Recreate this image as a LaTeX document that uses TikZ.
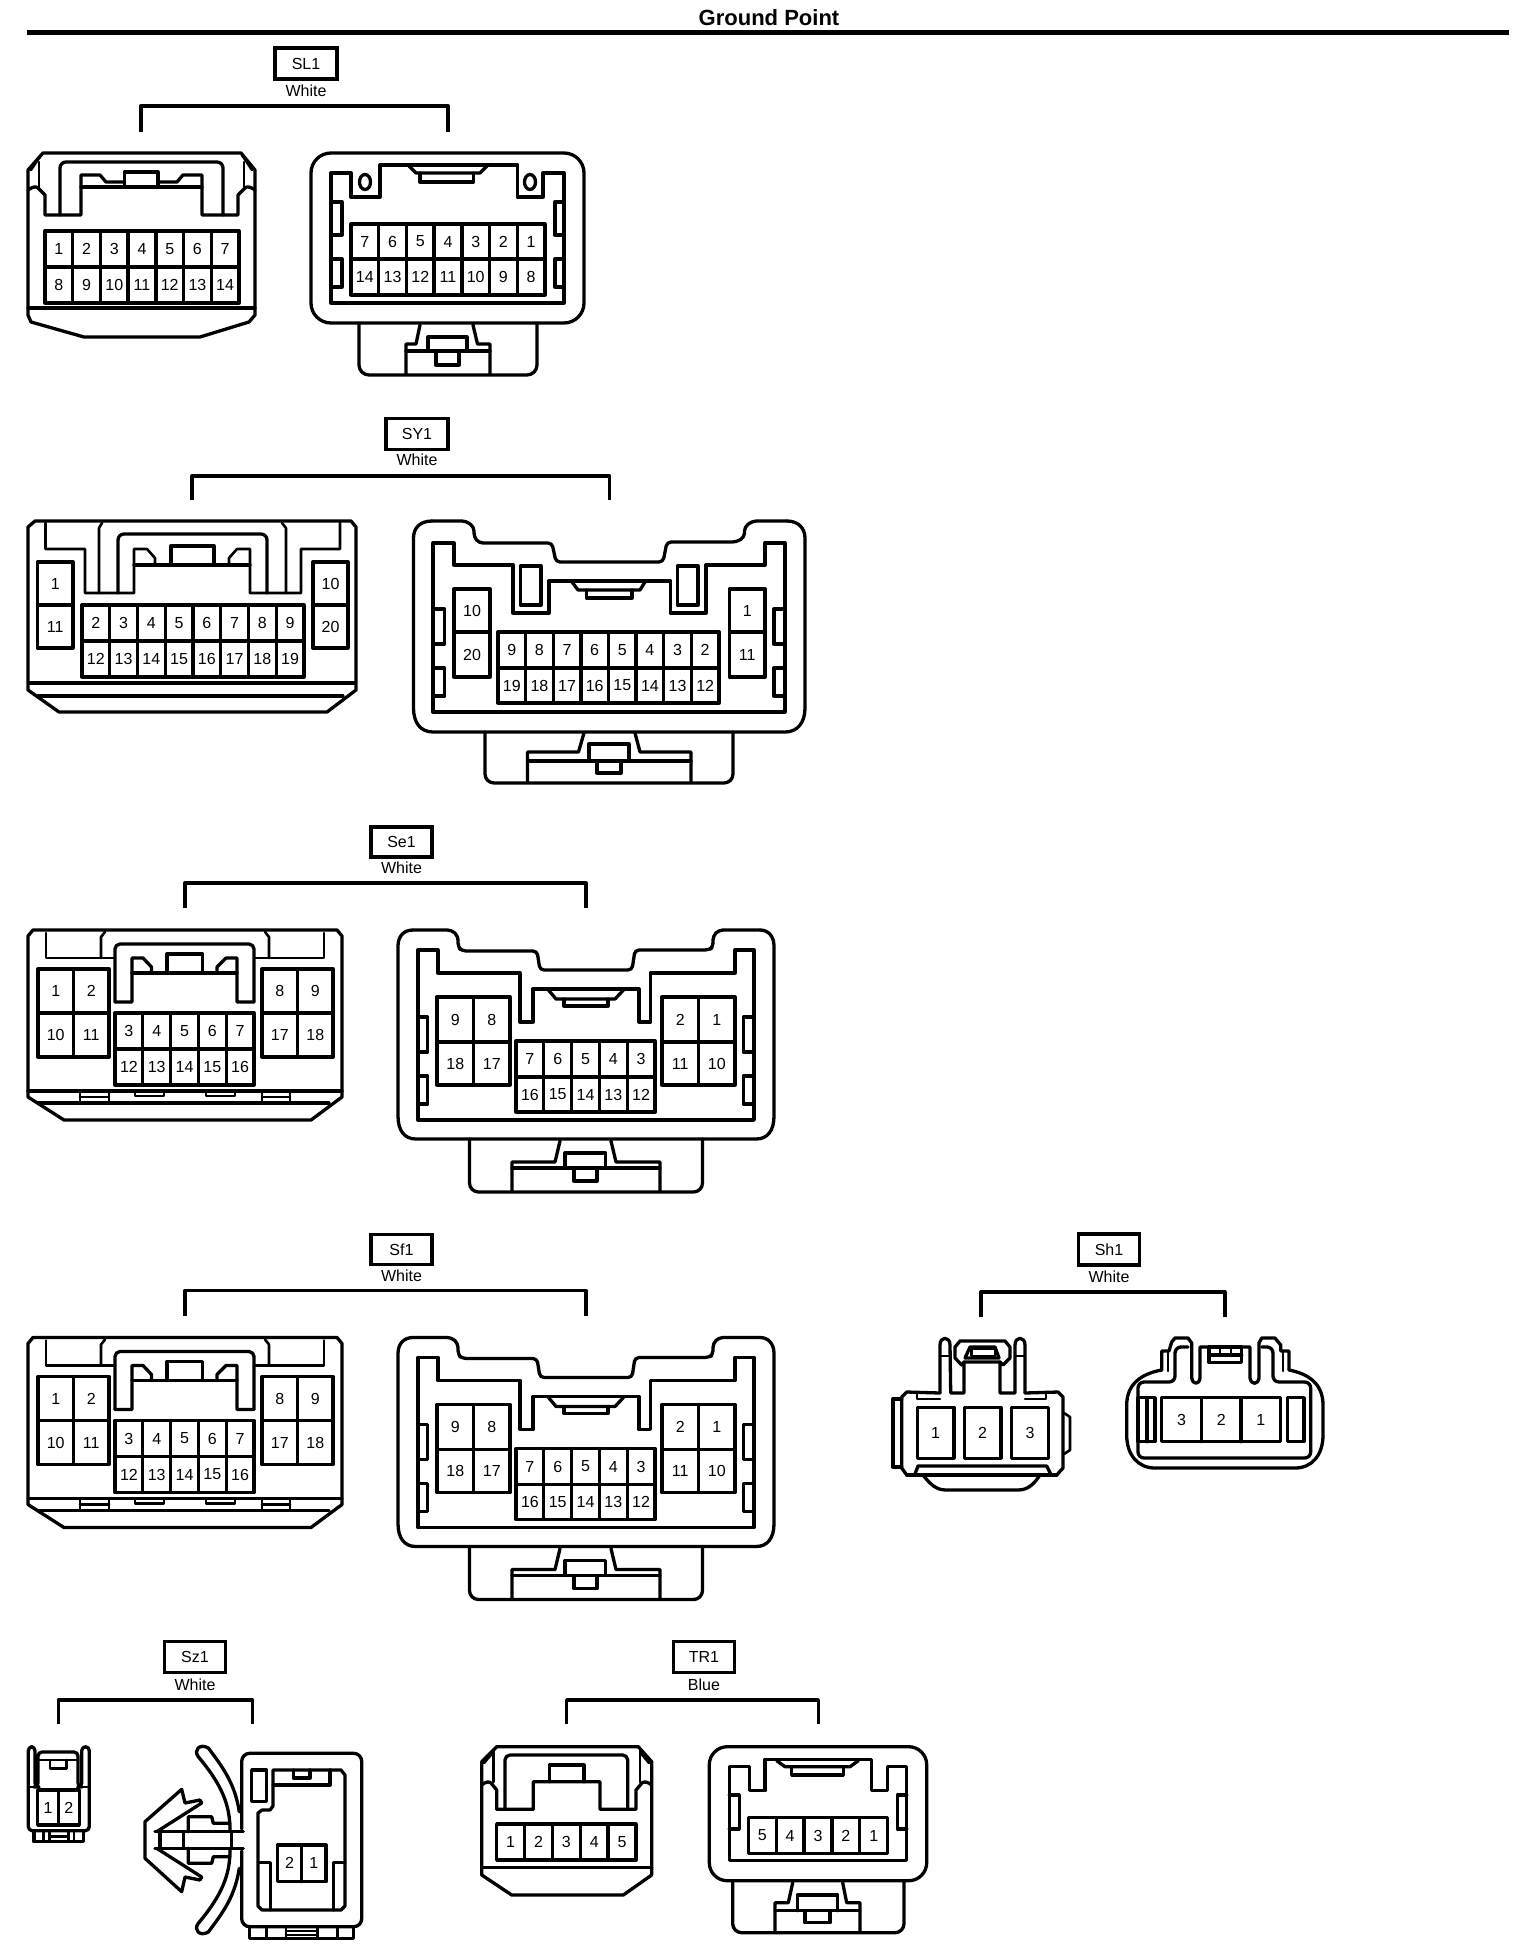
\documentclass[tikz,border=0pt]{standalone}
\usepackage{fontspec}
\setmainfont{Liberation Sans}
\tikzset{
 x=1pt,y=-1pt,
 ln/.style={line width=3.3pt,line join=round,line cap=round},
 thn/.style={line width=2.6pt,line join=round,line cap=round},
 pinlab/.style={inner sep=0pt,font=\fontsize{16}{18}\selectfont},
 tagbox/.style={draw,line width=3.3pt,inner sep=0pt,font=\fontsize{16}{18}\selectfont},
 collab/.style={inner sep=0pt,font=\fontsize{16}{18}\selectfont},
}
% name, n, x0,y0,x1,y1, labels
\newcommand{\pinrow}[7]{%
 \draw[ln] (#3,#4) rectangle (#5,#6);
 \pgfmathsetmacro{\cw}{(#5-#3)/#2}
 \foreach \lb [count=\ii] in {#7}{
  \ifnum\ii>1 \draw[ln] ({#3+(\ii-1)*\cw},#4) -- ({#3+(\ii-1)*\cw},#6);\fi
  \node[pinlab] (#1-\ii) at ({#3+(\ii-.5)*\cw},{(#4+#6)/2}) {\lb};
 }}
\newcommand{\grouphead}[9]{%
 \node[tagbox,minimum width=#4pt,minimum height=#5pt] (#1tag) at (#2,#3) {#1};
 \node[collab] (#1col) at (#2,#8) {#6};
 \coordinate (#1l) at (#7,#9);
}
\newcommand{\bracketto}[3]{%
 \coordinate (#1r) at (#2,#3);
 \draw[ln,line cap=butt] (#1l) |- (#1top) -| (#1r);
}
\newcommand{\seone}[1]{%
 % left connector
 \draw[ln] (33,930) -- (337,930) -- (342,936) -- (342,1097) -- (311,1120) -- (64,1120) -- (28,1097) -- (28,936) -- cycle;
 \draw[ln] (28,1091) -- (342,1091);
 \draw[ln] (38,1103) -- (329,1103);
 \draw[thn] (46,933) -- (46,958) -- (115,958);
 \draw[thn] (105,932) -- (101,937) -- (101,958);
 \draw[thn] (324,933) -- (324,958) -- (254,958);
 \draw[thn] (265,932) -- (269,937) -- (269,958);
 \draw[ln,rounded corners=5pt] (115,1002) -- (115,944) -- (254,944) -- (254,1002);
 \draw[ln] (115,1002) -- (132,1002) -- (132,958) -- (143,958) -- (151.5,967) -- (151.5,973);
 \draw[ln] (254,1002) -- (237,1002) -- (237,958) -- (226,958) -- (217,967) -- (217,973);
 \draw[ln] (132,973) -- (237,973);
 \draw[ln] (167,973) -- (167,954) -- (202.5,954) -- (202.5,973);
 \draw[thn] (80,1091) -- (80,1103) (109,1091) -- (109,1103) (80,1097) -- (109,1097);
 \draw[thn] (262,1091) -- (262,1103) (290,1091) -- (290,1103) (262,1097) -- (290,1097);
 \draw[thn] (135,1091) -- (135,1096) -- (164,1096) -- (164,1091);
 \draw[thn] (206,1091) -- (206,1096) -- (235,1096) -- (235,1091);
 \pinrow{#1a}{2}{38}{969}{109}{1013}{1,2}
 \pinrow{#1b}{2}{38}{1013}{109}{1057}{10,11}
 \pinrow{#1c}{2}{262}{969}{333}{1013}{8,9}
 \pinrow{#1d}{2}{262}{1013}{333}{1057}{17,18}
 \pinrow{#1e}{5}{115}{1013}{254}{1049}{3,4,5,6,7}
 \pinrow{#1f}{5}{115}{1049}{254}{1085}{12,13,14,15,16}
 % right connector
 \draw[ln,rounded corners=4pt] (413,930) -- (451.5,930) -- (458,936) -- (458,947) -- (462,951) -- (537,951) -- (540,970) -- (632,970) -- (635,950) -- (709,950) -- (713,947) -- (713,936) -- (719,930) -- (760,930);
 \draw[ln] (760,930) .. controls (768,930) and (774,936) .. (774,946) -- (774,1116) .. controls (774,1130) and (768,1139) .. (756,1139) -- (416,1139) .. controls (404,1139) and (398,1130) .. (398,1116) -- (398,946) .. controls (398,936) and (404,930) .. (413,930);
 \draw[ln] (418,950) -- (438,950) -- (438,973) -- (520,973) -- (520,1022) -- (533,1022) -- (533,989) -- (639,989) -- (639,1022) -- (650.5,1022) -- (650.5,973) -- (735,973) -- (735,950) -- (754,950) -- (754,1120) -- (418,1120) -- cycle;
 \draw[ln] (548.5,990) -- (556,999) -- (615,999) -- (623.5,990);
 \draw[ln] (564,999) -- (564,1006) -- (608,1006) -- (608,999);
 \draw[ln] (418,1017) -- (427.5,1017) -- (427.5,1052) -- (418,1052);
 \draw[ln] (418,1076) -- (427.5,1076) -- (427.5,1104) -- (418,1104);
 \draw[ln] (754,1017) -- (743.5,1017) -- (743.5,1052) -- (754,1052);
 \draw[ln] (754,1076) -- (743.5,1076) -- (743.5,1104) -- (754,1104);
 \pinrow{#1g}{2}{437}{997}{510}{1042}{9,8}
 \pinrow{#1h}{2}{437}{1042}{510}{1085}{18,17}
 \pinrow{#1i}{2}{662}{997}{735}{1042}{2,1}
 \pinrow{#1j}{2}{662}{1042}{735}{1085}{11,10}
 \pinrow{#1k}{5}{516}{1041}{655}{1077}{7,6,5,4,3}
 \pinrow{#1m}{5}{516}{1077}{655}{1112}{16,15,14,13,12}
 \draw[ln,rounded corners=9pt] (469.5,1139) -- (469.5,1192) -- (702.5,1192) -- (702.5,1139);
 \draw[ln] (560,1141) -- (555,1162) -- (512,1162) -- (512,1191);
 \draw[ln] (611,1141) -- (616,1162) -- (660,1162) -- (660,1191);
 \draw[ln] (512,1168) -- (660,1168);
 \draw[ln] (565,1168) -- (565,1153) -- (605.5,1153) -- (605.5,1168);
 \draw[ln] (574,1168) -- (574,1181) -- (597,1181) -- (597,1168);
}
\begin{document}
\begin{tikzpicture}
\path[fill=white,use as bounding box] (0,0) rectangle (1536,1956);
% ---------- title
\node[inner sep=0pt,font=\bfseries\fontsize{22}{24}\selectfont] (title) at (769,18) {Ground Point};
\coordinate (ruleL) at (27,32.5);
\coordinate (ruleR) at (1509,32.5);
\draw[line width=5pt] (ruleL) -- (ruleR);

% ---------- SL1
\grouphead{SL1}{306}{63.5}{62}{31}{White}{141}{91}{132}
\coordinate (SL1top) at (141,106);
\bracketto{SL1}{448}{132}
\draw[ln] (43,153) -- (241,153) -- (255,170) -- (255,315) -- (249,322) -- (200,337) -- (84,337) -- (31,322) -- (28,315) -- (28,170) -- cycle;
\draw[ln] (28,308) -- (255,308);
\draw[ln] (28,190) .. controls (32,187) and (36,186) .. (38,188) -- (45,195) -- (45,215) -- (81,215) -- (81,175) -- (100,175) -- (106,182) -- (124.5,182);
\draw[ln] (255,190) .. controls (251,187) and (247,186) .. (245,188) -- (238,195) -- (238,215) -- (202,215) -- (202,175) -- (183,175) -- (177,182) -- (158,182);
\draw[ln] (124.5,187) -- (124.5,172) -- (158,172) -- (158,187);
\draw[ln] (81,187) -- (202,187);
\draw[ln,rounded corners=6pt] (60,215) -- (60,162) -- (223,162) -- (223,215);
\draw[thn] (39,162) -- (39,187) (244,162) -- (244,187);
\draw[thn] (41,155) -- (31,170) (242,155) -- (252,170);
\pinrow{SL1a}{7}{45}{231}{239}{267}{1,2,3,4,5,6,7}
\pinrow{SL1b}{7}{45}{267}{239}{303}{8,9,10,11,12,13,14}
\draw[ln,rounded corners=20pt] (311,153) rectangle (584,323);
\draw[ln] (331,173) -- (351,173) -- (351,197) -- (380,197) -- (380,165) -- (517.5,165) -- (517.5,197) -- (543,197) -- (543,173) -- (564,173) -- (564,303) -- (331,303) -- cycle;
\draw[ln] (365,182) ellipse (5.5 and 7.5);
\draw[ln] (530,182) ellipse (5.5 and 7.5);
\draw[ln] (408,165) -- (416,173) -- (480,173) -- (488,165);
\draw[ln] (420,173) -- (420,182) -- (473.5,182) -- (473.5,173);
\draw[ln] (331,202) -- (342,202) -- (342,235) -- (331,235);
\draw[ln] (331,259) -- (342,259) -- (342,287) -- (331,287);
\draw[ln] (564,202) -- (555,202) -- (555,235) -- (564,235);
\draw[ln] (564,259) -- (555,259) -- (555,287) -- (564,287);
\pinrow{SL1c}{7}{351}{224}{545}{259}{7,6,5,4,3,2,1}
\pinrow{SL1d}{7}{351}{259}{545}{295}{14,13,12,11,10,9,8}
\draw[ln,rounded corners=10pt] (359,323) -- (359,375) -- (537,375) -- (537,323);
\draw[ln] (420,325) -- (416,344) -- (406,344) -- (406,374);
\draw[ln] (473,325) -- (477.5,344) -- (490,344) -- (490,374);
\draw[ln] (406,351) -- (490,351);
\draw[ln] (428,351) -- (428,337) -- (467,337) -- (467,351);
\draw[ln] (436,351) -- (436,365) -- (459,365) -- (459,351);

% ---------- SY1
\grouphead{SY1}{417}{434}{62}{31}{White}{192}{460}{500}
\coordinate (SY1top) at (192,476);
\bracketto{SY1}{609.5}{500}
\draw[ln] (35,521) -- (351,521) -- (356,527) -- (356,690) -- (327,712) -- (59,712) -- (28,690) -- (28,527) -- cycle;
\draw[line width=4.5pt] (28,683) -- (356,683);
\draw[ln] (38,696) -- (343,696);
\draw[thn] (45.5,523) -- (45.5,549) -- (85,549) -- (85,593) -- (134,593) -- (134,549) -- (147,549) -- (155,558) -- (155,565);
\draw[thn] (340,523) -- (340,549) -- (301,549) -- (301,593) -- (250,593) -- (250,549) -- (237,549) -- (229,558) -- (229,565);
\draw[thn] (102,523) -- (99,528) -- (99,593);
\draw[thn] (282,523) -- (286,528) -- (286,593);
\draw[ln,rounded corners=6pt] (118,593) -- (118,534) -- (267,534) -- (267,593);
\draw[ln] (134,565) -- (250,565);
\draw[ln] (171,565) -- (171,546) -- (214,546) -- (214,565);
\pinrow{SY1a}{1}{37.5}{562}{73}{605}{1}
\pinrow{SY1b}{1}{37.5}{605}{73}{648}{11}
\pinrow{SY1c}{1}{313}{562}{348}{605}{10}
\pinrow{SY1d}{1}{313}{605}{348}{648}{20}
\pinrow{SY1e}{8}{82}{605}{304}{641}{2,3,4,5,6,7,8,9}
\pinrow{SY1f}{8}{82}{641}{304}{677}{12,13,14,15,16,17,18,19}
\draw[ln,rounded corners=4pt] (432,521) -- (466,521) -- (474,527) -- (474,537) -- (479,543) -- (552,543) -- (556,562) -- (663,562) -- (667,542) -- (736.5,542) -- (744.5,537) -- (744.5,527) -- (752.5,521) -- (787,521);
\draw[ln] (787,521) .. controls (798,521) and (805,528) .. (805,538) -- (805,708) .. controls (805,722) and (798,732) .. (785,732) -- (433,732) .. controls (420,732) and (413.5,722) .. (413.5,708) -- (413.5,538) .. controls (413.5,528) and (420,521) .. (432,521);
\draw[ln] (433,543) -- (454,543) -- (454,565) -- (513,565) -- (513,613) -- (549,613) -- (549,581) -- (670.5,581) -- (670.5,613) -- (706,613) -- (706,565) -- (765,565) -- (765,543) -- (785,543) -- (785,712) -- (433,712) -- cycle;
\draw[ln] (520.5,566) rectangle (541,605);
\draw[ln] (677.5,566) rectangle (698,605);
\draw[ln] (572,582) -- (578,590) -- (640,590) -- (645,582);
\draw[ln] (586.5,590) -- (586.5,598) -- (632,598) -- (632,590);
\pinrow{SY1g}{1}{454}{589}{490}{632}{10}
\pinrow{SY1h}{1}{454}{632}{490}{677}{20}
\pinrow{SY1i}{1}{729.5}{589}{765}{632}{1}
\pinrow{SY1j}{1}{729.5}{632}{765}{677}{11}
\pinrow{SY1k}{8}{498}{632}{719}{668}{9,8,7,6,5,4,3,2}
\pinrow{SY1m}{8}{498}{668}{719}{703}{19,18,17,16,15,14,13,12}
\draw[ln] (433,609) -- (444.5,609) -- (444.5,644) -- (433,644);
\draw[ln] (433,668) -- (444.5,668) -- (444.5,696) -- (433,696);
\draw[ln] (785,609) -- (774,609) -- (774,644) -- (785,644);
\draw[ln] (785,668) -- (774,668) -- (774,696) -- (785,696);
\draw[ln,rounded corners=9pt] (485,732) -- (485,783) -- (733,783) -- (733,732);
\draw[ln] (584,733) -- (578.5,752) -- (527.5,752) -- (527.5,782);
\draw[ln] (635,733) -- (640,752) -- (691,752) -- (691,782);
\draw[ln] (527.5,761) -- (691,761);
\draw[ln] (589,761) -- (589,744) -- (629,744) -- (629,761);
\draw[ln] (597,761) -- (597,773) -- (621,773) -- (621,761);

% ---------- Se1
\grouphead{Se1}{401.5}{842}{61}{30}{White}{185}{868}{908}
\coordinate (Se1top) at (185,883);
\bracketto{Se1}{586}{908}
\seone{Se1}

% ---------- Sf1
\begin{scope}[yshift=-407.5pt]
\grouphead{Sf1}{401.5}{842}{61}{30}{White}{185}{868}{908}
\coordinate (Sf1top) at (185,883);
\bracketto{Sf1}{586}{908}
\seone{Sf1}
\end{scope}

% ---------- Sh1
\grouphead{Sh1}{1109}{1249.5}{61}{31}{White}{981}{1277}{1317}
\coordinate (Sh1top) at (981,1292);
\bracketto{Sh1}{1225}{1317}
\draw[ln] (940,1393) -- (906.7,1392) -- (901.7,1397) -- (901.7,1468) -- (906.7,1475) -- (923,1475) .. controls (930,1484) and (936,1490) .. (946,1490) -- (1018,1490) .. controls (1028,1490) and (1034,1484) .. (1040,1475) -- (1056.7,1475) -- (1063,1468) -- (1063,1397) -- (1058,1392) -- (1025,1393);
\draw[ln] (906.7,1475) -- (1056.7,1475);
\draw[ln] (901.7,1399) -- (893,1399) -- (893,1467) -- (901.7,1467);
\draw[thn] (1064,1413) -- (1070,1417) -- (1070,1450) -- (1064,1454);
\draw[thn] (917,1393) -- (917,1399) -- (940,1399);
\draw[thn] (1025,1399) -- (1046,1399) -- (1046,1393);
\draw[ln] (940,1393) -- (940,1345) .. controls (940,1336) and (950,1336) .. (950,1345) -- (950.7,1393) -- (964,1393) -- (964,1362);
\draw[ln] (1000,1362) -- (1000,1393) -- (1015,1393) -- (1015,1345) .. controls (1015,1336) and (1025,1336) .. (1025,1345) -- (1025,1393);
\draw[thn] (940,1356) -- (950,1356) (1015,1356) -- (1025,1356);
\draw[ln] (955,1347) -- (960,1341) -- (1005,1341) -- (1010,1347) -- (1010,1358) -- (1003,1365) -- (1000,1362) -- (964,1362) -- (961.7,1365) -- (955,1358) -- cycle;
\draw[ln] (965,1358) -- (970,1347) -- (995,1347) -- (999,1358) -- cycle;
\draw[thn] (971.7,1349) rectangle (995,1356);
\draw[ln] (915,1474) -- (918,1466) -- (1046.7,1466) -- (1050.7,1474);
\pinrow{Sh1a}{1}{917.3}{1407.3}{954}{1458.3}{1}
\pinrow{Sh1b}{1}{964.3}{1407.3}{1001}{1458.3}{2}
\pinrow{Sh1c}{1}{1011.7}{1407.3}{1048.3}{1458.3}{3}
% right
\draw[ln] (1161.7,1370) .. controls (1140,1374) and (1126.7,1385) .. (1126.7,1405) -- (1126.7,1435) .. controls (1126.7,1455) and (1138,1468) .. (1155,1468) -- (1295,1468) .. controls (1312,1468) and (1323,1455) .. (1323,1435) -- (1323,1405) .. controls (1323,1385) and (1310,1374) .. (1289,1370);
\draw[ln] (1161.7,1370) -- (1161.7,1351) -- (1169,1351) -- (1171.7,1342) -- (1175,1338) -- (1188,1338) -- (1191.7,1343) -- (1191.7,1378) .. controls (1193,1385) and (1199,1385) .. (1200,1378) -- (1200,1347) -- (1250,1347) -- (1250,1378) .. controls (1251,1385) and (1258,1385) .. (1259,1378) -- (1259,1343) -- (1261.7,1338) -- (1275,1338) -- (1280.7,1345) -- (1280.7,1351) -- (1289,1351) -- (1289,1370);
\draw[thn] (1168,1351) -- (1168,1371) (1283,1351) -- (1283,1371);
\draw[ln,rounded corners=6pt] (1188,1347) -- (1175,1347) -- (1175,1382) -- (1138,1382) -- (1138,1458) -- (1310.7,1458) -- (1310.7,1382) -- (1273,1382) -- (1273,1347) -- (1261.7,1347);
\draw[ln] (1209,1347) rectangle (1241.7,1362.7);
\draw[ln] (1209,1355) -- (1241.7,1355);
\draw[thn] (1220,1347) -- (1220,1355) (1231,1347) -- (1231,1355);
\draw[ln] (1138,1397.7) rectangle (1155,1441.7);
\draw[ln] (1147,1397.7) -- (1147,1441.7);
\draw[ln] (1287.3,1397.7) rectangle (1304,1441.7);
\pinrow{Sh1d}{3}{1161.7}{1397.7}{1280.7}{1441.7}{3,2,1}

% ---------- Sz1
\grouphead{Sz1}{195}{1657}{61}{31}{White}{58.3}{1685}{1724}
\coordinate (Sz1top) at (58.3,1700);
\bracketto{Sz1}{252.7}{1724}
\draw[ln,rounded corners=4pt] (28.3,1746.7) -- (28.3,1830.7) -- (89.3,1830.7) -- (89.3,1746.7) -- (81.7,1746.7) -- (81.7,1787) -- (78,1787) -- (78,1752) -- (38,1752) -- (38,1787) -- (35,1787) -- (35,1746.7) -- cycle;
\draw[thn] (38,1760) -- (78,1760);
\draw[thn] (50,1760) -- (50,1768.3) -- (66.7,1768.3) -- (66.7,1760);
\draw[thn] (28.3,1787) -- (38,1787) (78,1787) -- (89.3,1787);
\pinrow{Sz1a}{2}{37.7}{1790}{79.3}{1825}{1,2}
\draw[ln] (34,1830.7) -- (34,1841.7) -- (83.3,1841.7) -- (83.3,1830.7);
\draw[thn] (43.3,1831) -- (43.3,1841) (49.3,1831) -- (49.3,1841) (68.3,1831) -- (68.3,1841) (74,1831) -- (74,1841) (49.3,1836.7) -- (68.3,1836.7);
% clip wings
\draw[ln] (230,1830) .. controls (230,1805) and (222,1785) .. (198.3,1756.7) .. controls (193,1750) and (200,1743) .. (208.3,1748) .. controls (225,1770) and (235,1785) .. (239.3,1811.7);
\draw[ln] (230,1850) .. controls (230,1875) and (222,1895) .. (198.3,1923.3) .. controls (193,1930) and (200,1937) .. (208.3,1932) .. controls (225,1910) and (235,1895) .. (239.3,1868.3);
% barbed head
\draw[ln] (156.7,1831.7) -- (201.7,1803) -- (200,1800) -- (185,1803) -- (181.7,1789.3) -- (145,1821.7) -- (145,1858.3) -- (181.7,1891.7) -- (185,1877) -- (200,1880) -- (201.7,1877) -- (156.7,1848.3);
\draw[ln] (155,1831.7) -- (243.3,1831.7) (155,1848.3) -- (243.3,1848.3);
\draw[ln] (160,1832) -- (160,1848) (183.3,1832) -- (183.3,1848) (231.7,1832) -- (231.7,1848);
\draw[ln] (188.3,1831.7) -- (188.3,1816.7) -- (211.7,1816.7) -- (213.3,1823.3) -- (230,1823.3);
\draw[ln] (188.3,1848.3) -- (188.3,1863.3) -- (211.7,1863.3) -- (213.3,1856.7) -- (230,1856.7);
% body
\draw[ln,rounded corners=8pt] (241.7,1829) -- (241.7,1753.3) -- (361.7,1753.3) -- (361.7,1926.7) -- (241.7,1926.7) -- (241.7,1851);
\draw[ln] (249.3,1926.7) -- (249.3,1938.3) -- (353.3,1938.3) -- (353.3,1926.7);
\draw[thn] (266.7,1927) -- (266.7,1938) (286,1927) -- (286,1938) (317.3,1927) -- (317.3,1938) (337.3,1927) -- (337.3,1938) (286,1931) -- (317.3,1931) (286,1935) -- (317.3,1935);
\draw[ln] (251.7,1770) rectangle (266.7,1801.7);
\draw[ln] (273,1770) -- (341,1770) -- (345,1775) -- (345,1906) -- (341,1910) -- (262,1910) -- (258,1906) -- (258,1813) -- (262,1810) -- (270,1810) -- (273,1806) -- cycle;
\draw[ln] (273.3,1785) -- (330,1785) -- (330,1770);
\draw[ln] (293.3,1770) -- (293.3,1778) -- (310,1778) -- (310,1770);
\pinrow{Sz1b}{2}{277.3}{1845}{326}{1881.7}{2,1}
\draw[ln] (258.3,1862.7) -- (270.7,1862.7) -- (270.7,1910);
\draw[ln] (345,1862.7) -- (333.3,1862.7) -- (333.3,1910);

% ---------- TR1
\grouphead{TR1}{704}{1657}{61}{31}{Blue}{566.7}{1685}{1724}
\coordinate (TR1top) at (566.7,1700);
\bracketto{TR1}{818.3}{1724}
\draw[ln] (496.7,1746.7) -- (638.3,1746.7) -- (651.7,1761.7) -- (651.7,1875) -- (623.3,1895) -- (511.7,1895) -- (481.7,1875) -- (481.7,1761.7) -- cycle;
\draw[ln] (481.7,1867.3) -- (651.7,1867.3);
\draw[ln] (481.7,1785) .. controls (485,1782) and (489,1781) .. (491,1783) -- (496.7,1790) -- (496.7,1809.3) -- (533.3,1809.3) -- (533.3,1781.7) -- (600,1781.7) -- (600,1809.3) -- (636,1809.3) -- (636,1790) -- (642,1783) .. controls (644,1781) and (648,1782) .. (651.7,1785);
\draw[ln,rounded corners=5pt] (505,1808) -- (505,1755) -- (627.7,1755) -- (627.7,1808);
\draw[ln] (549.3,1781.7) -- (549.3,1765) -- (584,1765) -- (584,1781.7);
\draw[thn] (493.3,1750) -- (493.3,1782) (640,1750) -- (640,1782);
\draw[thn] (493.3,1752) -- (484,1763) (640,1752) -- (649,1763);
\pinrow{TR1a}{5}{496.7}{1824}{636}{1860}{1,2,3,4,5}
\draw[ln,rounded corners=18pt] (709.3,1746.7) rectangle (926.7,1880.7);
\draw[ln] (729.3,1766.7) -- (749.3,1766.7) -- (749.3,1790.7) -- (765,1790.7) -- (765,1759.3) -- (871.7,1759.3) -- (871.7,1790.7) -- (887.3,1790.7) -- (887.3,1766.7) -- (906.7,1766.7) -- (906.7,1860.7) -- (729.3,1860.7) -- cycle;
\draw[ln] (776.7,1760.7) -- (785,1766.7) -- (850,1766.7) -- (858.3,1760.7);
\draw[ln] (791.7,1767) -- (791.7,1775) -- (843.3,1775) -- (843.3,1767);
\draw[ln] (729.3,1795) -- (739.3,1795) -- (739.3,1829) -- (729.3,1829);
\draw[ln] (906.7,1795) -- (897.3,1795) -- (897.3,1829) -- (906.7,1829);
\pinrow{TR1b}{5}{748.3}{1817.7}{887.7}{1853.3}{5,4,3,2,1}
\draw[ln,rounded corners=9pt] (732.7,1880.7) -- (732.7,1932.7) -- (904,1932.7) -- (904,1880.7);
\draw[ln] (792.7,1882.7) -- (788.3,1902.7) -- (775,1902.7) -- (775,1931.7);
\draw[ln] (842.7,1882.7) -- (846.7,1902.7) -- (860,1902.7) -- (860,1931.7);
\draw[ln] (775,1910.7) -- (860,1910.7);
\draw[ln] (797.3,1910.7) -- (797.3,1895) -- (837.7,1895) -- (837.7,1910.7);
\draw[ln] (805,1910.7) -- (805,1922.7) -- (830,1922.7) -- (830,1910.7);
\end{tikzpicture}
\end{document}
